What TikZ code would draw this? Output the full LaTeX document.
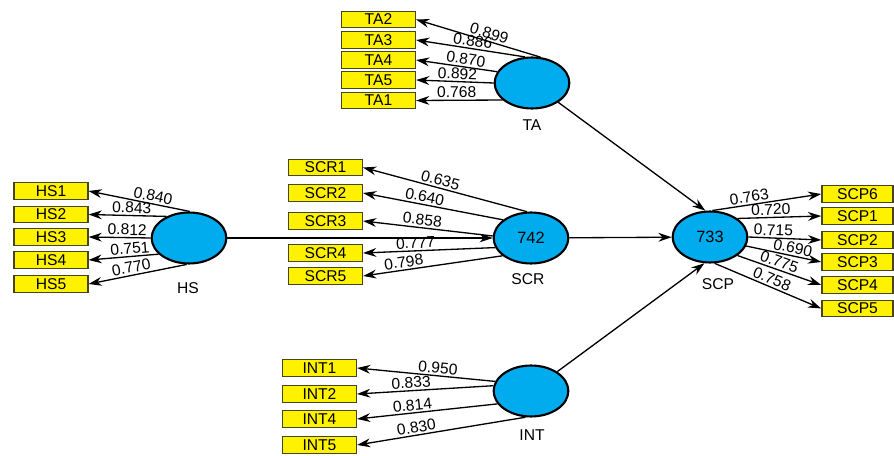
\documentclass[tikz,border=0pt]{standalone}
\usepackage{fontspec}
\setmainfont{Liberation Sans}
\usetikzlibrary{shapes.geometric,arrows.meta}
\definecolor{lvblue}{RGB}{0,172,238}
\definecolor{mvedge}{RGB}{70,70,30}
\def\txtsize{\fontsize{8.9}{10}\selectfont}

\begin{document}
\begin{tikzpicture}[x=0.02cm,y=-0.02cm,font=\txtsize,-{Stealth[length=7.5pt,width=5pt]},line width=0.75pt]
    \tikzstyle{latent}=[ellipse,draw=black,line width=1.2pt,fill=lvblue,minimum width=42.5pt,minimum height=29pt,inner sep=0pt,font=\fontsize{9.3}{11}\selectfont]
    \tikzstyle{indicator}=[rectangle,draw=mvedge,line width=0.8pt,fill=yellow,minimum width=42pt,minimum height=9.4pt,inner sep=0pt]
    \tikzstyle{loading}=[sloped,above,inner sep=1pt]

    \useasboundingbox (0,0) rectangle (894,456);

    % latent variables
    \node[latent] (TA) at (532,83) {};
    \node[latent] (HS) at (189,238) {};
    \node[latent] (SCR) at (531,238) {742};
    \node[latent] (SCP) at (710,237) {733};
    \node[latent] (INT) at (531,391) {};

    \node (TAname) at (532,125) {TA};
    \node (HSname) at (188,288) {HS};
    \node (SCRname) at (528,279) {SCR};
    \node (SCPname) at (718,284) {SCP};
    \node (INTname) at (532,435) {INT};

    % indicators
    \node[indicator] (TA2) at (378.5,19.5) {TA2};
    \node[indicator] (TA3) at (378.5,40) {TA3};
    \node[indicator] (TA4) at (378.5,60) {TA4};
    \node[indicator] (TA5) at (378.5,80) {TA5};
    \node[indicator] (TA1) at (378.5,100.5) {TA1};

    \node[indicator] (HS1) at (51,191) {HS1};
    \node[indicator] (HS2) at (51,214.5) {HS2};
    \node[indicator] (HS3) at (51,237) {HS3};
    \node[indicator] (HS4) at (51,260) {HS4};
    \node[indicator] (HS5) at (51,284) {HS5};

    \node[indicator] (SCR1) at (325.5,167.5) {SCR1};
    \node[indicator] (SCR2) at (325.5,193) {SCR2};
    \node[indicator] (SCR3) at (325.5,221) {SCR3};
    \node[indicator] (SCR4) at (325.5,253) {SCR4};
    \node[indicator] (SCR5) at (325.5,276) {SCR5};

    \node[indicator,minimum width=40.5pt] (SCP6) at (857.5,194) {SCP6};
    \node[indicator,minimum width=40.5pt] (SCP1) at (857.5,216) {SCP1};
    \node[indicator,minimum width=40.5pt] (SCP2) at (857.5,240) {SCP2};
    \node[indicator,minimum width=40.5pt] (SCP3) at (857.5,262) {SCP3};
    \node[indicator,minimum width=40.5pt] (SCP4) at (857.5,285) {SCP4};
    \node[indicator,minimum width=40.5pt] (SCP5) at (857.5,308.5) {SCP5};

    \node[indicator] (INT1) at (319.5,368) {INT1};
    \node[indicator] (INT2) at (319.5,394) {INT2};
    \node[indicator] (INT4) at (319.5,419) {INT4};
    \node[indicator] (INT5) at (319.5,445) {INT5};

    % loadings
    \draw (TA.72) -- (TA2.east) node[loading,pos=.43] {0.899};
    \draw (TA.105) -- (TA3.east) node[loading,pos=.49] {0.886};
    \draw (TA.162) -- (TA4.east) node[loading,pos=.40] {0.870};
    \draw (TA.180) -- (TA5.east) node[loading,pos=.47] {0.892};
    \draw (TA.210) -- (TA1.east) node[loading,pos=.53] {0.768};

    \draw (HS.88) -- (HS1.east) node[loading,pos=.38] {0.840};
    \draw (HS.136) -- (HS2.east) node[loading,pos=.45] {0.843};
    \draw (HS.180) -- (HS3.east) node[loading,pos=.38] {0.812};
    \draw (HS.208) -- (HS4.east) node[loading,pos=.40] {0.751};
    \draw (HS.265) -- (HS5.east) node[loading,pos=.55] {0.770};

    \draw (SCR.99) -- (SCR1.east) node[loading,pos=.54] {0.635};
    \draw (SCR.147) -- (SCR2.east) node[loading,pos=.57] {0.640};
    \draw (SCR.177) -- (SCR3.east) node[loading,pos=.55] {0.858};
    \draw (SCR.195) -- (SCR4.east) node[loading,pos=.60] {0.777};
    \draw (SCR.212) -- (SCR5.east) node[loading,pos=.70] {0.798};

    \draw (SCP.85) -- (SCP6.west) node[loading,pos=.35] {0.763};
    \draw (SCP.34) -- (SCP1.west) node[loading,pos=.40] {0.720};
    \draw (SCP.0) -- (SCP2.west) node[loading,pos=.34] {0.715};
    \draw (SCP.346) -- (SCP3.west) node[loading,pos=.60] {0.690};
    \draw (SCP.326) -- (SCP4.west) node[loading,pos=.47] {0.775};
    \draw (SCP.280) -- (SCP5.west) node[loading,pos=.51] {0.758};

    \draw (INT.165) -- (INT1.east) node[loading,pos=.42] {0.950};
    \draw (INT.172) -- (INT2.east) node[loading,pos=.60] {0.833};
    \draw (INT.201) -- (INT4.east) node[loading,pos=.60] {0.814};
    \draw (INT.258) -- (INT5.east) node[loading,pos=.64] {0.830};

    % paths
    \draw (HS) -- (SCR);
    \draw (SCR) -- (SCP);
    \draw (TA) -- (SCP.100);
    \draw (INT) -- (SCP.258);
\end{tikzpicture}
\end{document}
